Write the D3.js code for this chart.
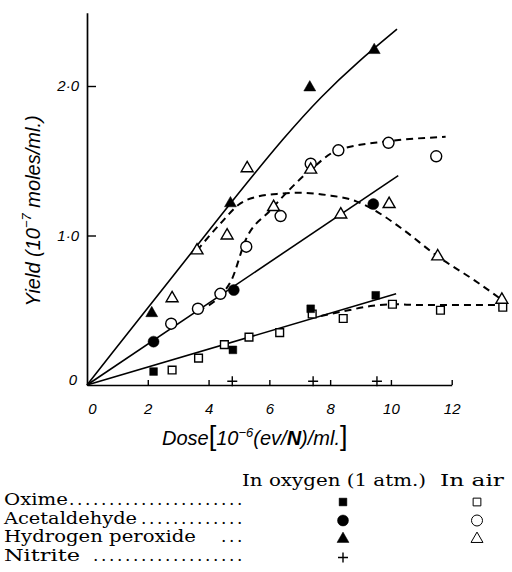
<!DOCTYPE html>
<html>
<head>
<meta charset="utf-8">
<script src="https://cdn.jsdelivr.net/npm/d3@7"></script>
<style>
  body { margin: 0; background: #fff; }
  svg { display: block; }
</style>
</head>
<body>
<div id="chart"></div>
<script>
// Points: [dose, yield]
const oximeO2 = [[2.19, 0.09], [4.8, 0.235], [7.36, 0.51], [9.5, 0.6]];
const oximeAir = [[2.8, 0.1], [3.67, 0.18], [4.52, 0.27], [5.33, 0.32], [6.34, 0.35], [7.41, 0.475],
                  [8.43, 0.445], [10.05, 0.54], [11.63, 0.5], [13.68, 0.52]];
const acetO2 = [[2.19, 0.29], [4.83, 0.635], [9.42, 1.21]];
const acetAir = [[2.77, 0.41], [3.65, 0.51], [4.39, 0.61], [5.24, 0.925], [6.37, 1.13], [7.36, 1.48],
                 [8.27, 1.57], [9.92, 1.62], [11.49, 1.53]];
const peroxO2 = [[2.13, 0.48], [4.72, 1.215], [7.33, 1.99], [9.45, 2.24]];
const peroxAir = [[2.8, 0.58], [3.62, 0.9], [4.61, 1.0], [5.27, 1.45], [6.14, 1.19], [7.36, 1.44],
                  [8.35, 1.14], [9.94, 1.21], [11.54, 0.86], [13.65, 0.57]];
const nitrite = [[4.78, 0.025], [7.44, 0.025], [9.54, 0.025]];

// Curves as drawn in the figure
const oximeLine = [[0, 0], [10.17, 0.61]];
const oximeAirCurve = [[7.7, 0.462], [8.6, 0.5], [9.4, 0.53], [10.05, 0.54], [11, 0.535], [13.65, 0.535]];
const acetLine = [[0, 0], [10.24, 1.4]];
const acetAirCurve = [[3.65, 0.5], [4.4, 0.6], [4.75, 0.7], [5.22, 0.97], [6.04, 1.17], [7.36, 1.44],
                      [8.24, 1.57], [9.89, 1.63], [11.8, 1.66]];
const peroxLine = [[0, 0], [5, 1.29], [6.5, 1.66], [7.7, 1.93], [8.9, 2.16], [10.2, 2.38]];
const peroxAirCurve = [[3.62, 0.9], [4.39, 1.08], [5.05, 1.215], [5.6, 1.26], [6.37, 1.28], [7.03, 1.286],
                       [7.91, 1.27], [8.84, 1.23], [9.45, 1.17], [10.33, 1.05], [11.54, 0.86],
                       [12.75, 0.7], [13.65, 0.57]];

const xTicks = [0, 2, 4, 6, 8, 10, 12];
const yTicks = [0, 1, 2];

// Key below the chart
const keyNames = ["Oxime", "Acetaldehyde", "Hydrogen peroxide", "Nitrite"];
const keyDots = [22, 13, 3, 19];
const keyO2 = ["square", "circle", "triangle", "plus"];
const keyAir = ["square", "circle", "triangle", null];

const width = 512, height = 572;

const svg = d3.select("#chart").append("svg")
    .attr("width", width)
    .attr("height", height);

const x = d3.scaleLinear().domain([0, 14]).range([87, 512.5]);
const y = d3.scaleLinear().domain([0, 2.5]).range([385, 11.25]);

// Axes
const xAxisScale = d3.scaleLinear().domain([0, 12]).range([x(0), x(12)]);
const yAxisScale = d3.scaleLinear().domain([0, 2.49]).range([y(0), y(2.49)]);

const gx = svg.append("g")
    .attr("transform", `translate(0,${y(0)})`)
    .call(d3.axisBottom(xAxisScale)
        .tickValues(xTicks)
        .tickSizeInner(-5)
        .tickSizeOuter(0)
        .tickPadding(18)
        .tickFormat(d3.format("d")));

const gy = svg.append("g")
    .attr("transform", `translate(${x(0)},0)`)
    .call(d3.axisLeft(yAxisScale)
        .tickValues(yTicks)
        .tickSizeInner(-9)
        .tickSizeOuter(0)
        .tickPadding(8)
        .tickFormat(d => d === 0 ? "0" : d.toFixed(1).replace(".", "·")));

[gx, gy].forEach(g => {
    g.select(".domain").attr("stroke", "#000").attr("stroke-width", 1.7);
    g.selectAll(".tick line").attr("stroke", "#000").attr("stroke-width", 1.4);
    g.selectAll(".tick text")
        .attr("fill", "#000")
        .style("font-family", "'Liberation Sans', sans-serif")
        .style("font-style", "italic")
        .style("font-size", "15px");
});
gx.selectAll(".tick").filter(d => d === 0).select("line").remove();
gx.selectAll(".tick").filter(d => d === 0).select("text").attr("x", 5);
gy.selectAll(".tick").filter(d => d === 0).select("line").remove();
gy.selectAll(".tick").filter(d => d === 0).select("text").attr("y", -5).attr("x", -10);

// Axis titles
const xTitle = svg.append("text")
    .attr("x", 162)
    .attr("y", 445)
    .style("font-family", "'Liberation Sans', sans-serif")
    .style("font-style", "italic")
    .style("font-size", "20px");
xTitle.append("tspan").text("Dose");
xTitle.append("tspan").style("font-size", "27px").style("font-style", "normal").text("[");
xTitle.append("tspan").text("10");
xTitle.append("tspan").attr("dy", -8).style("font-size", "13px").text("−6");
xTitle.append("tspan").attr("dy", 8).text("(ev/");
xTitle.append("tspan").style("font-weight", "bold").text("N");
xTitle.append("tspan").text(")/ml.");
xTitle.append("tspan").style("font-size", "27px").style("font-style", "normal").text("]");

const yTitle = svg.append("text")
    .attr("transform", "translate(40,211) rotate(-90)")
    .attr("text-anchor", "middle")
    .style("font-family", "'Liberation Sans', sans-serif")
    .style("font-style", "italic")
    .style("font-size", "20px");
yTitle.append("tspan").text("Yield (10");
yTitle.append("tspan").attr("dy", -9).style("font-size", "13px").text("−7");
yTitle.append("tspan").attr("dy", 9).text(" moles/ml.)");

// Lines
const line = d3.line()
    .x(d => x(d[0]))
    .y(d => y(d[1]))
    .curve(d3.curveMonotoneX);

const smoothLine = d3.line()
    .x(d => x(d[0]))
    .y(d => y(d[1]))
    .curve(d3.curveBasis);

const plot = svg.append("g");

[oximeLine, acetLine].forEach(pts => {
    plot.append("path")
        .attr("d", line(pts))
        .attr("fill", "none")
        .attr("stroke", "#000")
        .attr("stroke-width", 1.6);
});

plot.append("path")
    .attr("d", smoothLine(peroxLine))
    .attr("fill", "none")
    .attr("stroke", "#000")
    .attr("stroke-width", 1.6);

[oximeAirCurve, acetAirCurve, peroxAirCurve].forEach(pts => {
    plot.append("path")
        .attr("d", line(pts))
        .attr("fill", "none")
        .attr("stroke", "#000")
        .attr("stroke-width", 2)
        .attr("stroke-dasharray", "7,5");
});

// Markers
const symbolTypes = {square: d3.symbolSquare, circle: d3.symbolCircle, triangle: d3.symbolTriangle};
const symbolSizes = {square: 60, circle: 95, triangle: 62};

function marker(g, type, filled) {
    if (type === "plus") {
        return g.append("path")
            .attr("d", "M-5,0H5M0,-5V5")
            .attr("fill", "none")
            .attr("stroke", "#000")
            .attr("stroke-width", 1.4);
    }
    return g.append("path")
        .attr("d", d3.symbol(symbolTypes[type], symbolSizes[type])())
        .attr("fill", filled ? "#000" : "#fff")
        .attr("stroke", "#000")
        .attr("stroke-width", filled ? 0.5 : 1.4);
}

function drawPoints(pts, type, filled) {
    pts.forEach(d => {
        const g = plot.append("g").attr("transform", `translate(${x(d[0])},${y(d[1])})`);
        marker(g, type, filled);
    });
}

drawPoints(oximeAir, "square", false);
drawPoints(oximeO2, "square", true);
drawPoints(acetAir, "circle", false);
drawPoints(acetO2, "circle", true);
drawPoints(peroxAir, "triangle", false);
drawPoints(peroxO2, "triangle", true);
drawPoints(nitrite, "plus", true);

// Key
const key = svg.append("g")
    .style("font-family", "'DejaVu Serif', serif")
    .style("font-size", "17px");

const nameWidths = [64, 133, 192, 76];

key.append("text").attr("x", 242).attr("y", 486)
    .attr("textLength", 184).attr("lengthAdjust", "spacingAndGlyphs")
    .text("In oxygen (1 atm.)");
key.append("text").attr("x", 440).attr("y", 486)
    .attr("textLength", 64).attr("lengthAdjust", "spacingAndGlyphs")
    .text("In air");

keyNames.forEach((name, i) => {
    const by = 505 + i * 18.5;
    key.append("text").attr("x", 4).attr("y", by)
        .attr("textLength", nameWidths[i]).attr("lengthAdjust", "spacingAndGlyphs")
        .text(name);
    key.append("text")
        .attr("x", 245)
        .attr("y", by)
        .attr("text-anchor", "end")
        .style("letter-spacing", "2.6px")
        .text(".".repeat(keyDots[i]));
    const g1 = key.append("g").attr("transform", `translate(343,${by - 3})`);
    marker(g1, keyO2[i], true);
    if (keyAir[i]) {
        const g2 = key.append("g").attr("transform", `translate(477,${by - 3})`);
        marker(g2, keyAir[i], false).attr("stroke-width", 1);
    }
});
</script>
</body>
</html>
